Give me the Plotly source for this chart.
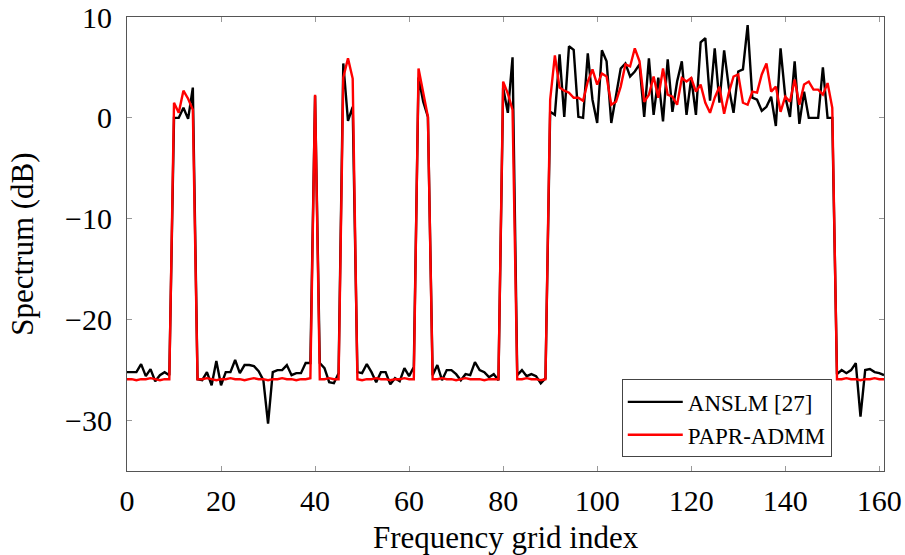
import plotly.graph_objects as go

idx = list(range(162))

anslm = [
    -25.2, -25.2, -25.2, -24.4, -25.6, -24.9, -26.1, -25.5, -25.2, -25.5,
    0.0, 0.0, 1.0, -0.1, 3.0,
    -25.9, -26.0, -25.2, -26.5, -24.1, -26.5, -25.2, -25.2, -24.0, -25.3,
    -24.5, -24.5, -24.6, -25.1, -26.0, -30.3, -25.2, -25.0, -25.0, -24.5,
    -25.5, -25.3, -25.3, -24.3, -24.3,
    2.2,
    -24.3, -24.8, -26.2, -26.3, -25.3,
    5.4, -0.3, 1.1,
    -25.2, -25.3, -24.4, -25.2, -26.2, -25.2, -25.2, -26.4, -25.8, -26.1,
    -24.8, -25.6, -24.7,
    4.0, 1.6, 0.1,
    -25.5, -24.5, -26.0, -25.0, -25.0, -25.4, -26.0, -25.4, -25.5, -24.2,
    -25.0, -25.2, -25.7, -25.4, -26.0,
    3.0, 0.5, 6.0,
    -25.5, -25.0, -25.6, -25.4, -25.6, -26.3, -25.8,
    0.6, 0.3, 6.3, 0.1, 7.1, 6.75, 0.1, 0.0, 6.4, 1.8,
    -0.5, 6.7, 5.6, -0.5, 2.1, 4.9, 5.4, 4.1, 4.6, 5.3,
    0.1, 5.9, 0.3, 4.0, -0.35, 5.8, 0.6, 3.6, 5.6, 0.3,
    4.0, 0.3, 7.5, 7.9, 1.7, 6.9, 1.5, 6.7, 3.0, 0.5,
    4.6, 4.8, 9.2, 2.0, 1.8, 0.7, 1.1, 2.1, -0.8, 6.9,
    2.1, 0.1, 5.6, -0.6, 2.6, 0.0, 0.0, 0.0, 5.0, 0.0,
    0.0,
    -25.4, -25.0, -25.3, -25.0, -24.3, -29.6, -25.0, -24.9, -25.2, -25.3,
    -25.5,
]

papr_admm = [
    -25.9, -25.9, -26.0, -25.9, -25.9, -25.8, -25.9, -26.0, -25.9, -25.9,
    1.5, 0.5, 2.7, 1.9, 0.8,
    -25.9, -25.9, -25.8, -25.9, -26.0, -25.9, -25.9, -25.8, -25.9, -25.9,
    -26.0, -25.9, -25.8, -25.9, -25.9, -26.0, -25.9, -25.9, -25.8, -25.9,
    -25.9, -26.0, -25.9, -25.9, -25.8,
    2.3,
    -25.9, -25.9, -25.8, -25.9, -25.9,
    4.0, 5.9, 3.9,
    -25.9, -26.0, -25.9, -25.9, -25.8, -25.9, -25.9, -26.0, -25.9, -25.9,
    -25.8, -25.9, -25.9,
    4.9, 2.3, 0.1,
    -25.9, -25.9, -25.8, -25.9, -25.9, -26.0, -25.9, -25.8, -25.9, -25.9,
    -25.9, -26.0, -25.9, -25.9, -25.9,
    3.6, 2.4, 0.8,
    -25.9, -25.9, -25.8, -25.9, -25.9, -26.0, -25.9,
    1.8, 6.2, 3.0, 2.7, 2.5, 2.0, 2.0, 1.7, 3.6, 4.8,
    3.3, 4.4, 4.1, 1.3, 1.6, 3.1, 5.3, 5.1, 6.9, 5.6,
    1.6, 2.3, 4.1, 2.0, 4.9, 2.3, 2.1, 1.3, 3.95, 3.6,
    3.95, 2.6, 3.3, 1.5, 0.5, 2.0, 3.1, 0.4, 2.5, 4.1,
    4.3, 1.5, 1.3, 2.6, 2.5, 4.3, 5.4, 2.6, 3.1, 0.6,
    2.1, 1.6, 3.8, 1.3, 3.3, 3.6, 2.8, 2.8, 2.3, 3.45,
    1.0,
    -25.9, -25.9, -25.8, -25.9, -25.9, -26.0, -25.9, -25.9, -25.8, -25.9,
    -25.9,
]

x_ticks = [0, 20, 40, 60, 80, 100, 120, 140, 160]
y_ticks = [-30, -20, -10, 0, 10]
series_names = ["ANSLM [27]", "PAPR-ADMM"]
x_title = "Frequency grid index"
y_title = "Spectrum (dB)"

FONT = "Liberation Serif, Times New Roman, serif"

fig = go.Figure()
fig.add_trace(go.Scatter(x=idx, y=anslm, mode="lines", name=series_names[0],
                         line=dict(color="black", width=2.4)))
fig.add_trace(go.Scatter(x=idx, y=papr_admm, mode="lines", name=series_names[1],
                         line=dict(color="#ff0000", width=2.4)))

axis_common = dict(
    showgrid=False, zeroline=False, showline=True, linecolor="#555555", linewidth=1.2,
    mirror="ticks", ticks="inside", ticklen=5, tickwidth=1, tickcolor="#999999",
    tickfont=dict(family=FONT, size=30, color="black"),
)

fig.update_layout(
    width=905, height=555,
    margin=dict(l=127, r=21, t=17, b=84, autoexpand=False),
    paper_bgcolor="white", plot_bgcolor="white",
    font=dict(family=FONT, color="black"),
    xaxis=dict(range=[0, 161], tickvals=x_ticks,
               ticklabelstandoff=3, **axis_common),
    yaxis=dict(range=[-35, 10], tickvals=y_ticks,
               ticklabelstandoff=8, **axis_common),
    showlegend=True,
    legend=dict(x=0.931, y=0.03, xanchor="right", yanchor="bottom",
                bgcolor="white", bordercolor="#444444", borderwidth=1,
                font=dict(family=FONT, size=23, color="black"),
                tracegroupgap=0, itemwidth=55),
    annotations=[
        dict(text=x_title, xref="paper", yref="paper", x=0.5, y=-0.146,
             xanchor="center", yanchor="middle", showarrow=False,
             font=dict(family=FONT, size=31, color="black")),
        dict(text=y_title, xref="paper", yref="paper", x=-0.139, y=0.5,
             xanchor="center", yanchor="middle", showarrow=False, textangle=-90,
             font=dict(family=FONT, size=31, color="black")),
    ],
)

fig.write_html("out.html")
